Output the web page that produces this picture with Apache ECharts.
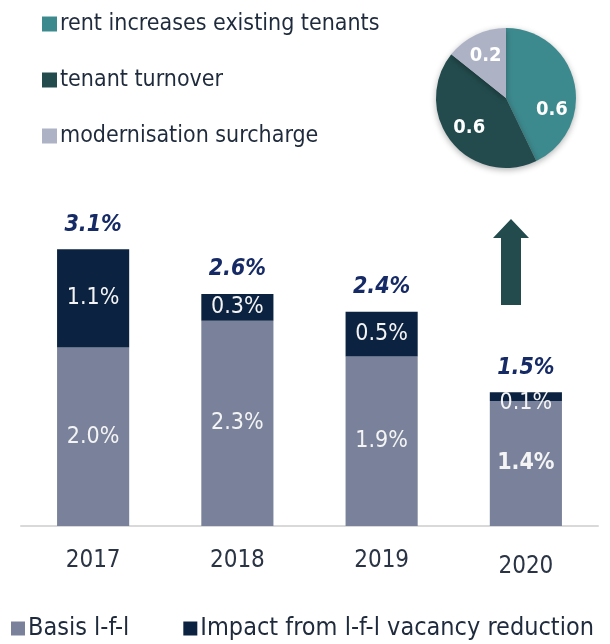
<!DOCTYPE html>
<html>
<head>
<meta charset="utf-8">
<script src="https://cdn.jsdelivr.net/npm/echarts@6/dist/echarts.min.js"></script>
<style>
  html, body { margin: 0; padding: 0; background: #fff; }
  #chart1 { width: 610px; height: 644px; }
</style>
</head>
<body>
<div id="chart1"></div>
<script>
// data
const years = ['2017', '2018', '2019', '2020'];
const basis = [2.0, 2.3, 1.9, 1.4];
const vacancy = [1.1, 0.3, 0.5, 0.1];
const totals = [3.1, 2.6, 2.4, 1.5];

const pieNames = ['rent increases existing tenants', 'tenant turnover', 'modernisation surcharge'];
const pieValues = [0.6, 0.6, 0.2];

const FONT = "'Liberation Sans Narrow', 'Arial Narrow', 'DejaVu Sans Condensed', sans-serif";
const pieColors = ['#3d8a8e', '#234b4d', '#adb3c5'];

const pieData = pieNames.map((n, i) => ({ name: n, value: pieValues[i], itemStyle: { color: pieColors[i] } }));

const echart1 = echarts.init(document.getElementById('chart1'), null, { renderer: 'canvas' });

const option = {
  backgroundColor: '#fff',
  animation: false,
  textStyle: { fontFamily: FONT },
  grid: { left: 21, right: 12, top: 169, bottom: 118 },
  legend: [
    {
      data: pieNames,
      orient: 'vertical',
      left: 37, top: 5,
      icon: 'rect', itemWidth: 15, itemHeight: 15,
      itemGap: 28,
      selectedMode: false,
      textStyle: { fontFamily: FONT, fontSize: 23, color: '#1f2b3c', lineHeight: 28, padding: [0, 0, 0, -2] }
    },
    {
      data: ['Basis l-f-l', 'Impact from l-f-l vacancy reduction'],
      orient: 'horizontal',
      left: 11, top: 616, width: 599, padding: 0,
      icon: 'rect', itemWidth: 14, itemHeight: 14,
      itemGap: 54,
      selectedMode: false,
      textStyle: { fontFamily: FONT, fontSize: 25, color: '#1f2b3c', padding: [0, 0, 0, -2] }
    }
  ],
  xAxis: {
    type: 'category',
    data: years.map((y, i) => i === 3 ? { value: y, textStyle: { padding: [6, 0, 0, 0] } } : y),
    axisLine: { lineStyle: { color: '#d9d9d9', width: 2 } },
    axisTick: { show: false },
    axisLabel: { fontFamily: FONT, fontSize: 24, color: '#2a3444', margin: 23 }
  },
  yAxis: { type: 'value', min: 0, max: 4, show: false, splitLine: { show: false } },
  series: [
    {
      name: 'Basis l-f-l',
      type: 'bar', stack: 'lfl', barWidth: '50%',
      itemStyle: { color: '#79829a' },
      label: {
        show: true, position: 'inside', color: '#f4f4f4',
        fontFamily: FONT, fontSize: 23,
        formatter: p => p.value.toFixed(1) + '%'
      },
      data: basis.map((v, i) => i === 3 ? { value: v, label: { fontWeight: 'bold' } } : v)
    },
    {
      name: 'Impact from l-f-l vacancy reduction',
      type: 'bar', stack: 'lfl', barWidth: '50%',
      itemStyle: { color: '#0b2240' },
      label: {
        show: true, position: 'inside', color: '#f4f4f4',
        fontFamily: FONT, fontSize: 23,
        formatter: p => p.value.toFixed(1) + '%'
      },
      data: vacancy.map((v, i) => i === 3 ? { value: v, label: { offset: [0, 6] } } : v)
    },
    {
      name: 'total',
      type: 'scatter', symbolSize: 0, silent: true,
      itemStyle: { opacity: 1 },
      label: {
        show: true, position: 'top', distance: 13,
        color: '#162a66', fontFamily: FONT, fontSize: 23,
        fontWeight: 'bold', fontStyle: 'italic',
        formatter: p => p.value.toFixed(1) + '%'
      },
      data: totals,
      z: 5
    },
    {
      name: 'pie',
      type: 'pie',
      center: [506, 98], radius: 70,
      startAngle: 90, clockwise: true,
      label: { show: false },
      labelLine: { show: false },
      itemStyle: { shadowBlur: 6, shadowColor: 'rgba(0,0,0,0.3)', shadowOffsetY: 2 },
      data: pieData
    },
    {
      name: 'pieLabels',
      type: 'pie', silent: true,
      center: [506, 98], radius: [18, 70],
      startAngle: 90, clockwise: true,
      itemStyle: { color: 'transparent' },
      label: {
        show: true, position: 'inside', color: '#fff',
        fontFamily: FONT, fontSize: 20, fontWeight: 'bold',
        formatter: p => p.value.toFixed(1)
      },
      labelLine: { show: false },
      data: pieNames.map((n, i) => ({ name: n, value: pieValues[i], label: i === 0 ? { offset: [0, 22] } : {} }))
    }
  ],
  graphic: [
    {
      // up arrow
      type: 'polygon',
      x: 511, y: 219,
      shape: { points: [[0, 0], [18, 19], [10, 19], [10, 86], [-10, 86], [-10, 19], [-18, 19]] },
      style: { fill: '#234b4d' }
    }
  ]
};

echart1.setOption(option);
</script>
</body>
</html>
